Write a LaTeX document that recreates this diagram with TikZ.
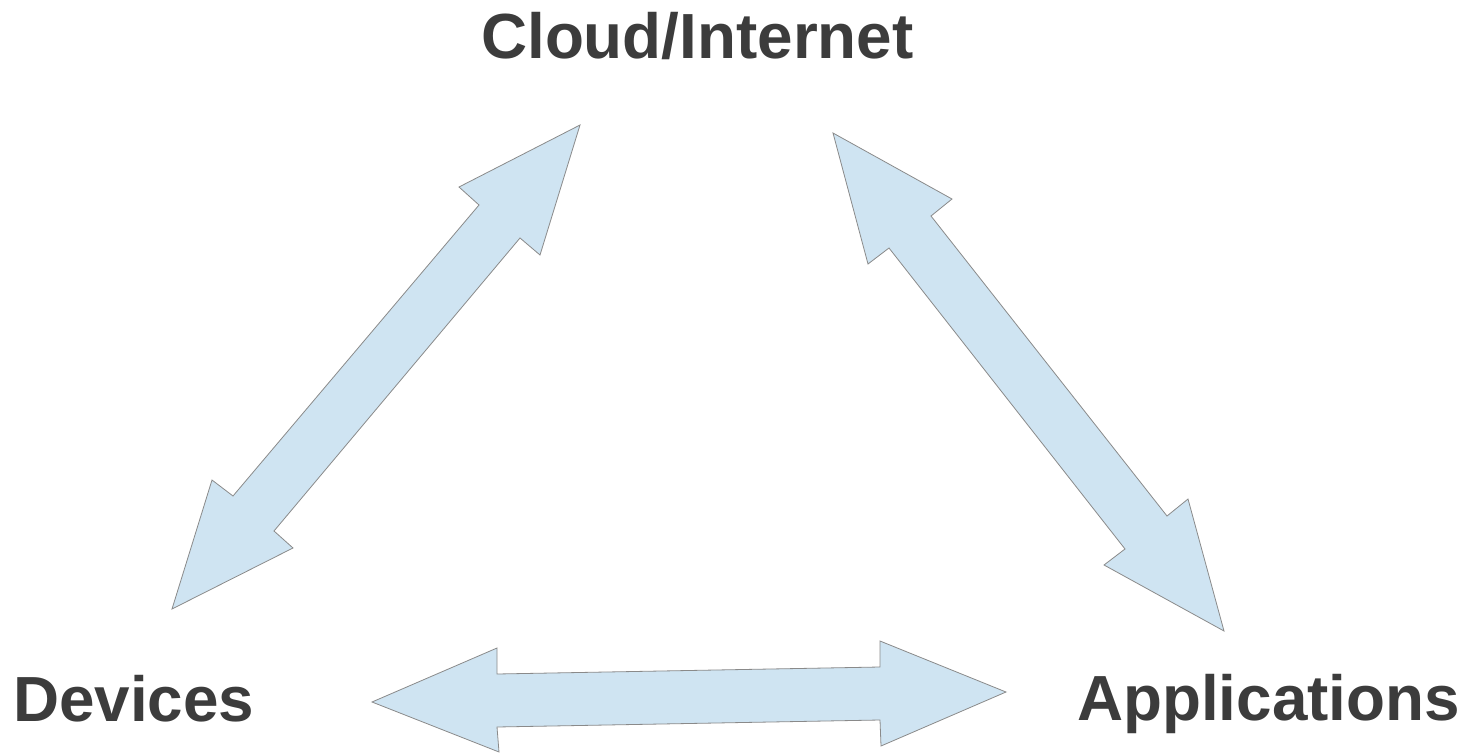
\documentclass[tikz,border=0pt]{standalone}
\usepackage{fontspec}
\setmainfont{Liberation Sans}
\definecolor{arrowfill}{HTML}{CFE4F2}
\definecolor{arrowline}{HTML}{8A8A8A}
\definecolor{labeltext}{HTML}{3C3C3C}
\tikzset{
  blockarrow/.style={fill=arrowfill, draw=arrowline, line width=0.8pt, line join=miter},
  biglabel/.style={inner sep=0pt, anchor=base west, text=labeltext, font=\fontsize{63.8}{70}\selectfont\bfseries}
}
\begin{document}
\begin{tikzpicture}[x=1pt, y=-1pt]
\useasboundingbox (0,0) rectangle (1473,755);
\node[biglabel] (cloud) at (481,58) {Cloud/Internet};
\node[biglabel] (devices) at (13,721) {Devices};
\node[biglabel] (apps) at (1077,720) {Applications};
% left arrow: Devices <-> Cloud
\draw[blockarrow] (580,125) -- (540,255) -- (520,238) -- (274,531) -- (293,548) -- (172,609)
  -- (212,480) -- (233,496) -- (479,205) -- (459,187) -- cycle;
% right arrow: Cloud <-> Applications
\draw[blockarrow] (833,133) -- (952,199) -- (931,216) -- (1167,516) -- (1188,499) -- (1224,631)
  -- (1104,565) -- (1125,549) -- (889,248) -- (868,264) -- cycle;
% bottom arrow: Devices <-> Applications
\draw[blockarrow] (372,702) -- (497,648) -- (497,674) -- (880,667) -- (880,641) -- (1006,692)
  -- (881,746) -- (880,720) -- (497,727) -- (499,752) -- cycle;
\end{tikzpicture}
\end{document}
